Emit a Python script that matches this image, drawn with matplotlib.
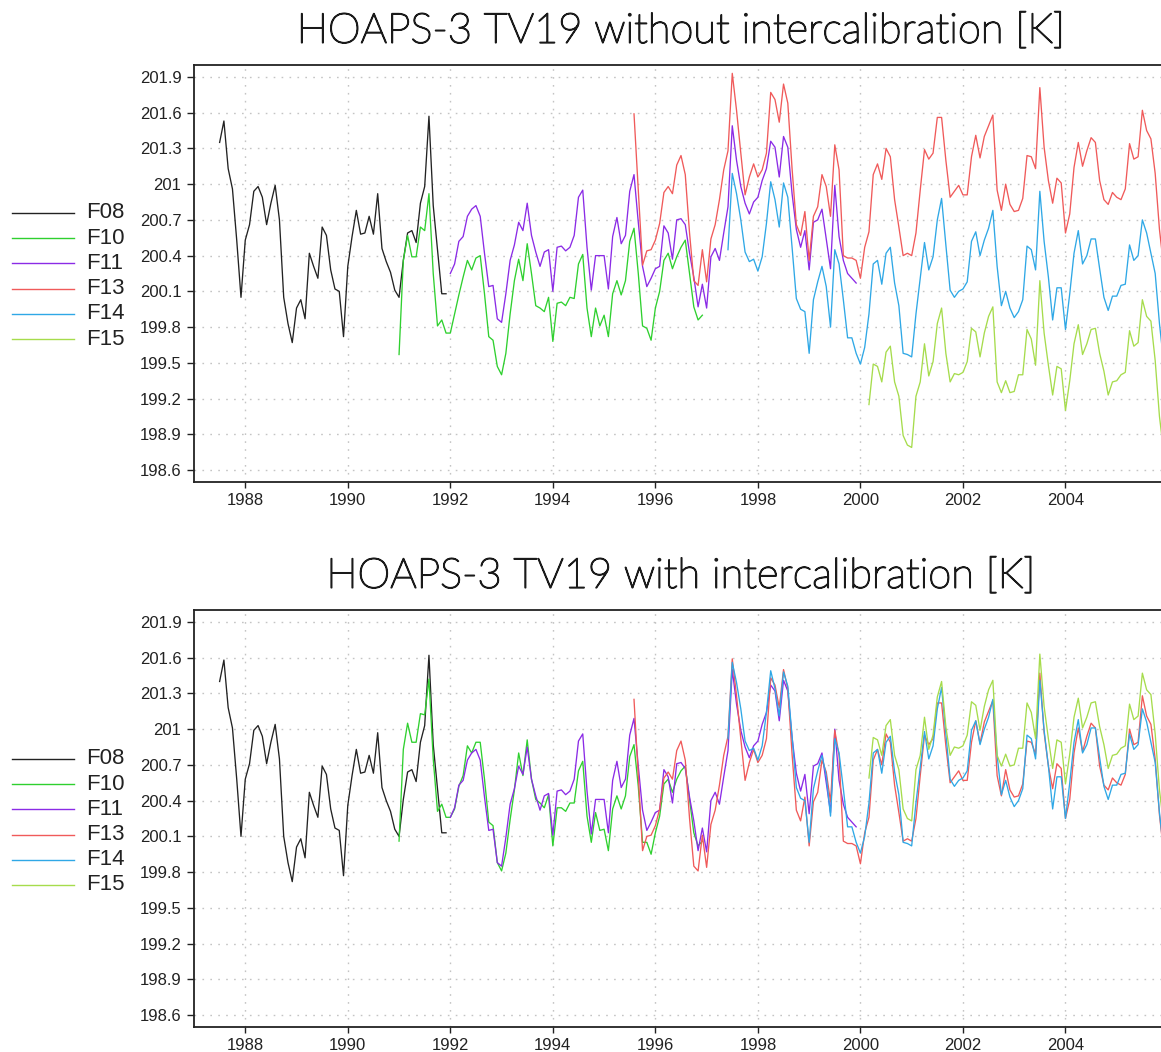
import numpy as np
import matplotlib
matplotlib.use('Agg')
import matplotlib.pyplot as plt
import matplotlib.patheffects as pe
from matplotlib.lines import Line2D

plt.rcParams['font.family'] = ['Liberation Sans', 'DejaVu Sans']

sensors = ['F08', 'F10', 'F11', 'F13', 'F14', 'F15']
colors = ['#222222', '#2fd02f', '#8b2be6', '#f05a5a', '#2fa8e6', '#a6dc4c']
start_month = [(1987, 7), (1991, 1), (1992, 1), (1995, 8), (1997, 6), (2000, 3)]

year_ticks = [1988, 1990, 1992, 1994, 1996, 1998, 2000, 2002, 2004]
tb_ticks = [198.6, 198.9, 199.2, 199.5, 199.8, 200.1, 200.4, 200.7, 201.0, 201.3, 201.6, 201.9]
tb_labels = ['198.6', '198.9', '199.2', '199.5', '199.8', '200.1',
             '200.4', '200.7', '201', '201.3', '201.6', '201.9']

titles = ['HOAPS-3 TV19 without intercalibration [K]',
          'HOAPS-3 TV19 with intercalibration [K]']

# monthly mean TB 19V [K], without intercalibration
raw_f08 = [201.35, 201.53, 201.13, 200.96, 200.53, 200.05,
           200.53, 200.66, 200.94, 200.98, 200.89, 200.66, 200.84, 200.99, 200.70, 200.05, 199.83, 199.67,
           199.96, 200.03, 199.87, 200.42, 200.31, 200.21, 200.64, 200.57, 200.28, 200.12, 200.10, 199.72,
           200.31, 200.56, 200.78, 200.58, 200.59, 200.73, 200.58, 200.92, 200.46, 200.35, 200.26, 200.11,
           200.05, 200.36, 200.59, 200.61, 200.51, 200.84, 200.98, 201.57, 200.82, 200.45, 200.08, 200.08]
raw_f10 = [199.57, 200.36, 200.57, 200.39, 200.39, 200.64, 200.61, 200.92, 200.25, 199.81, 199.86, 199.75,
           199.75, 199.91, 200.07, 200.22, 200.36, 200.28, 200.38, 200.40, 200.08, 199.72, 199.69, 199.47,
           199.40, 199.58, 199.91, 200.19, 200.37, 200.19, 200.50, 200.25, 199.98, 199.96, 199.93, 200.05,
           199.68, 200.00, 200.01, 199.98, 200.05, 200.04, 200.33, 200.41, 199.96, 199.72, 199.96, 199.81,
           199.90, 199.72, 200.08, 200.19, 200.07, 200.19, 200.52, 200.63, 200.25, 199.81, 199.79, 199.69,
           199.96, 200.10, 200.36, 200.42, 200.29, 200.39, 200.47, 200.53, 200.25, 199.97, 199.86, 199.90]
raw_f11 = [200.25, 200.33, 200.52, 200.56, 200.73, 200.79, 200.82, 200.73, 200.42, 200.14, 200.15, 199.87,
           199.84, 200.08, 200.36, 200.49, 200.68, 200.61, 200.84, 200.57, 200.43, 200.31, 200.43, 200.45,
           200.10, 200.47, 200.48, 200.44, 200.47, 200.57, 200.89, 200.95, 200.47, 200.11, 200.40, 200.40,
           200.40, 200.12, 200.56, 200.72, 200.50, 200.57, 200.94, 201.08, 200.68, 200.31, 200.14, 200.21,
           200.29, 200.31, 200.65, 200.59, 200.37, 200.70, 200.71, 200.66, 200.42, 200.22, 199.97, 200.16,
           199.96, 200.39, 200.46, 200.36, 200.59, 200.81, 201.49, 201.20, 200.98, 200.84, 200.75, 200.85,
           200.89, 201.03, 201.13, 201.36, 201.31, 201.06, 201.40, 201.31, 200.92, 200.62, 200.47, 200.61,
           200.28, 200.68, 200.70, 200.79, 200.54, 200.29, 200.99, 200.56, 200.36, 200.25, 200.21, 200.17]
raw_f13 = [201.59, 200.95, 200.32, 200.44, 200.45,
           200.53, 200.67, 200.93, 200.98, 200.92, 201.16, 201.24, 201.08, 200.59, 200.19, 200.15, 200.45,
           200.18, 200.54, 200.66, 200.87, 201.12, 201.28, 201.93, 201.62, 201.26, 200.91, 201.06, 201.17,
           201.06, 201.12, 201.26, 201.77, 201.71, 201.52, 201.84, 201.68, 201.13, 200.66, 200.57, 200.77,
           200.36, 200.73, 200.81, 201.08, 200.98, 200.73, 201.33, 201.12, 200.40, 200.38, 200.38, 200.36,
           200.21, 200.47, 200.60, 201.08, 201.17, 201.04, 201.30, 201.23, 200.87, 200.64, 200.40, 200.42,
           200.40, 200.59, 200.95, 201.29, 201.21, 201.26, 201.56, 201.56, 201.20, 200.89, 200.94, 200.99,
           200.91, 200.91, 201.23, 201.41, 201.22, 201.40, 201.49, 201.58, 200.95, 200.78, 201.00, 200.83,
           200.77, 200.78, 200.88, 201.24, 201.23, 201.13, 201.81, 201.31, 201.03, 200.84, 201.05, 201.01,
           200.59, 200.75, 201.14, 201.35, 201.15, 201.28, 201.39, 201.35, 201.03, 200.87, 200.83, 200.93,
           200.89, 200.87, 200.96, 201.34, 201.21, 201.23, 201.62, 201.45, 201.38, 201.09, 200.62, 200.30]
raw_f14 = [200.45, 201.09, 200.92, 200.70, 200.43, 200.35, 200.37,
           200.27, 200.39, 200.67, 201.02, 200.87, 200.64, 201.01, 200.89, 200.47, 200.04, 199.95, 199.93,
           199.58, 200.03, 200.18, 200.31, 200.14, 199.80, 200.45, 200.33, 200.03, 199.71, 199.71, 199.58,
           199.49, 199.63, 199.91, 200.33, 200.36, 200.16, 200.42, 200.47, 200.17, 199.98, 199.58, 199.57,
           199.55, 199.91, 200.21, 200.51, 200.28, 200.39, 200.70, 200.88, 200.49, 200.11, 200.05, 200.10,
           200.12, 200.18, 200.52, 200.60, 200.40, 200.53, 200.63, 200.78, 200.31, 199.98, 200.10, 199.96,
           199.88, 199.93, 200.03, 200.48, 200.45, 200.28, 200.94, 200.52, 200.22, 199.86, 200.13, 200.13,
           199.78, 200.08, 200.42, 200.61, 200.33, 200.40, 200.54, 200.54, 200.29, 200.05, 199.94, 200.06,
           200.06, 200.15, 200.16, 200.49, 200.36, 200.40, 200.70, 200.59, 200.42, 200.25, 199.83, 199.50]
raw_f15 = [199.15, 199.49, 199.47, 199.34, 199.59, 199.64, 199.34, 199.22, 198.89, 198.81,
           198.79, 199.22, 199.34, 199.66, 199.39, 199.51, 199.83, 199.96, 199.58, 199.34, 199.41, 199.40,
           199.42, 199.51, 199.79, 199.76, 199.55, 199.75, 199.89, 199.97, 199.34, 199.25, 199.35, 199.25,
           199.26, 199.40, 199.40, 199.78, 199.70, 199.48, 200.19, 199.75, 199.48, 199.23, 199.47, 199.45,
           199.10, 199.35, 199.66, 199.82, 199.57, 199.66, 199.78, 199.79, 199.58, 199.43, 199.23, 199.34,
           199.35, 199.40, 199.42, 199.77, 199.64, 199.67, 200.03, 199.89, 199.85, 199.52, 199.05, 198.75]

# monthly mean TB 19V [K], with intercalibration
cal_f08 = [201.40, 201.58, 201.18, 201.01, 200.58, 200.10,
           200.58, 200.71, 200.99, 201.03, 200.94, 200.71, 200.89, 201.04, 200.75, 200.10, 199.88, 199.72,
           200.01, 200.08, 199.92, 200.47, 200.36, 200.26, 200.69, 200.62, 200.33, 200.17, 200.15, 199.77,
           200.36, 200.61, 200.83, 200.63, 200.64, 200.78, 200.63, 200.97, 200.51, 200.40, 200.31, 200.16,
           200.10, 200.41, 200.64, 200.66, 200.56, 200.89, 201.03, 201.62, 200.87, 200.50, 200.13, 200.13]
cal_f10 = [200.06, 200.83, 201.05, 200.89, 200.89, 201.13, 201.12, 201.42, 200.75, 200.31, 200.37, 200.26,
           200.26, 200.33, 200.52, 200.61, 200.86, 200.80, 200.89, 200.89, 200.58, 200.22, 200.19, 199.88,
           199.81, 199.96, 200.24, 200.49, 200.80, 200.61, 200.91, 200.58, 200.41, 200.38, 200.34, 200.45,
           200.02, 200.34, 200.34, 200.31, 200.38, 200.38, 200.65, 200.73, 200.27, 200.05, 200.30, 200.15,
           200.16, 199.98, 200.33, 200.44, 200.33, 200.44, 200.77, 200.87, 200.52, 200.05, 200.05, 199.95,
           200.13, 200.27, 200.54, 200.58, 200.47, 200.58, 200.65, 200.69, 200.41, 200.13, 200.02, 200.06]
cal_f11 = [200.26, 200.34, 200.53, 200.57, 200.74, 200.80, 200.83, 200.74, 200.43, 200.15, 200.16, 199.88,
           199.85, 200.09, 200.37, 200.50, 200.69, 200.62, 200.85, 200.58, 200.44, 200.32, 200.44, 200.46,
           200.11, 200.48, 200.49, 200.45, 200.48, 200.58, 200.90, 200.96, 200.48, 200.12, 200.41, 200.41,
           200.41, 200.13, 200.57, 200.73, 200.51, 200.58, 200.95, 201.09, 200.69, 200.32, 200.15, 200.22,
           200.30, 200.32, 200.66, 200.60, 200.38, 200.71, 200.72, 200.67, 200.43, 200.23, 199.98, 200.17,
           199.97, 200.40, 200.47, 200.37, 200.60, 200.82, 201.50, 201.21, 200.99, 200.85, 200.76, 200.86,
           200.90, 201.04, 201.14, 201.37, 201.32, 201.07, 201.41, 201.32, 200.93, 200.63, 200.48, 200.62,
           200.29, 200.69, 200.71, 200.80, 200.55, 200.30, 201.00, 200.57, 200.37, 200.26, 200.22, 200.18]
cal_f13 = [201.25, 200.61, 199.98, 200.10, 200.11,
           200.19, 200.33, 200.59, 200.64, 200.58, 200.82, 200.90, 200.74, 200.25, 199.85, 199.81, 200.11,
           199.84, 200.20, 200.32, 200.53, 200.78, 200.94, 201.59, 201.28, 200.92, 200.57, 200.72, 200.83,
           200.72, 200.78, 200.92, 201.43, 201.37, 201.18, 201.50, 201.34, 200.79, 200.32, 200.23, 200.43,
           200.02, 200.39, 200.47, 200.74, 200.64, 200.39, 200.99, 200.78, 200.06, 200.04, 200.04, 200.02,
           199.87, 200.13, 200.26, 200.74, 200.83, 200.70, 200.96, 200.89, 200.53, 200.30, 200.06, 200.08,
           200.06, 200.25, 200.61, 200.95, 200.87, 200.92, 201.22, 201.22, 200.86, 200.55, 200.60, 200.65,
           200.57, 200.57, 200.89, 201.07, 200.88, 201.06, 201.15, 201.24, 200.61, 200.44, 200.66, 200.49,
           200.43, 200.44, 200.54, 200.90, 200.89, 200.79, 201.47, 200.97, 200.69, 200.50, 200.71, 200.67,
           200.25, 200.41, 200.80, 201.01, 200.81, 200.94, 201.05, 201.01, 200.69, 200.53, 200.49, 200.59,
           200.55, 200.53, 200.62, 201.00, 200.87, 200.89, 201.28, 201.11, 201.04, 200.75, 200.28, 199.96]
cal_f14 = [200.92, 201.56, 201.39, 201.17, 200.90, 200.82, 200.84,
           200.74, 200.86, 201.14, 201.49, 201.34, 201.11, 201.48, 201.36, 200.94, 200.51, 200.42, 200.40,
           200.05, 200.50, 200.65, 200.78, 200.61, 200.27, 200.92, 200.80, 200.50, 200.18, 200.18, 200.05,
           199.96, 200.10, 200.38, 200.80, 200.83, 200.63, 200.89, 200.94, 200.64, 200.45, 200.05, 200.04,
           200.02, 200.38, 200.68, 200.98, 200.75, 200.86, 201.17, 201.35, 200.96, 200.58, 200.52, 200.57,
           200.59, 200.65, 200.99, 201.07, 200.87, 201.00, 201.10, 201.25, 200.78, 200.45, 200.57, 200.43,
           200.35, 200.40, 200.50, 200.95, 200.92, 200.75, 201.41, 200.99, 200.69, 200.33, 200.60, 200.60,
           200.25, 200.55, 200.89, 201.08, 200.80, 200.87, 201.01, 201.01, 200.76, 200.52, 200.41, 200.53,
           200.53, 200.62, 200.63, 200.96, 200.83, 200.87, 201.17, 201.06, 200.89, 200.72, 200.30, 199.97]
cal_f15 = [200.59, 200.93, 200.91, 200.78, 201.03, 201.08, 200.78, 200.66, 200.33, 200.25,
           200.23, 200.66, 200.78, 201.10, 200.83, 200.95, 201.27, 201.40, 201.02, 200.78, 200.85, 200.84,
           200.86, 200.95, 201.23, 201.20, 200.99, 201.19, 201.33, 201.41, 200.78, 200.69, 200.79, 200.69,
           200.70, 200.84, 200.84, 201.22, 201.14, 200.92, 201.63, 201.19, 200.92, 200.67, 200.91, 200.89,
           200.54, 200.79, 201.10, 201.26, 201.01, 201.10, 201.22, 201.23, 201.02, 200.87, 200.67, 200.78,
           200.79, 200.84, 200.86, 201.21, 201.08, 201.11, 201.47, 201.33, 201.29, 200.96, 200.49, 200.19]

raw = [raw_f08, raw_f10, raw_f11, raw_f13, raw_f14, raw_f15]
cal = [cal_f08, cal_f10, cal_f11, cal_f13, cal_f14, cal_f15]


def month_axis(start, n):  # decimal year of each monthly value
    year, month = start
    return year + (month - 1 + np.arange(n)) / 12.0


W, H = 1161, 1052
fig = plt.figure(figsize=(W / 100, H / 100), dpi=100)

# axes run off the right edge of the picture, as in the original
ax_top = fig.add_axes([194 / W, 1 - 482 / H, 974 / W, 417 / H])
ax_bot = fig.add_axes([194 / W, 1 - 1027 / H, 974 / W, 417 / H])

thin = ['Lato', 'Liberation Sans', 'DejaVu Sans']
stroke = [pe.withStroke(linewidth=1.1, foreground='#1a1a1a')]

for ax, series, title in zip([ax_top, ax_bot], [raw, cal], titles):
    for name, vals, col, start in zip(sensors, series, colors, start_month):
        ax.plot(month_axis(start, len(vals)), vals, color=col, lw=0.95, label=name)
    ax.set_xlim(1987, 2006)
    ax.set_ylim(198.5, 202.0)
    ax.set_xticks(year_ticks)
    ax.set_xticklabels([str(y) for y in year_ticks])
    ax.set_yticks(tb_ticks)
    ax.set_yticklabels(tb_labels)
    ax.grid(True, color='#c4c4c4', linestyle=(0, (1.2, 4.5)), linewidth=1.0)
    ax.set_axisbelow(True)
    for s in ['top', 'bottom', 'left']:
        ax.spines[s].set_linewidth(1.3)
        ax.spines[s].set_color('#222222')
    ax.spines['right'].set_visible(False)
    ax.tick_params(axis='both', labelsize=12, colors='#222222', width=1.0)
    ax.tick_params(axis='y', length=5, pad=4)
    ax.tick_params(axis='x', length=4, pad=4)
    ax.set_title(title, fontsize=30, pad=16, color='#1a1a1a',
                 family=thin, fontweight='light', path_effects=stroke)

# legends drawn on the left margin
for top_px in [213, 759]:
    for i, (name, col) in enumerate(zip(sensors, colors)):
        y = 1 - (top_px + i * 25.2) / H
        fig.add_artist(Line2D([12 / W, 74 / W], [y, y], color=col, lw=1.0,
                              transform=fig.transFigure))
        fig.text(86 / W, y, name, fontsize=16, va='center', ha='left', color='#222222')

plt.savefig('out.png', dpi=100)
